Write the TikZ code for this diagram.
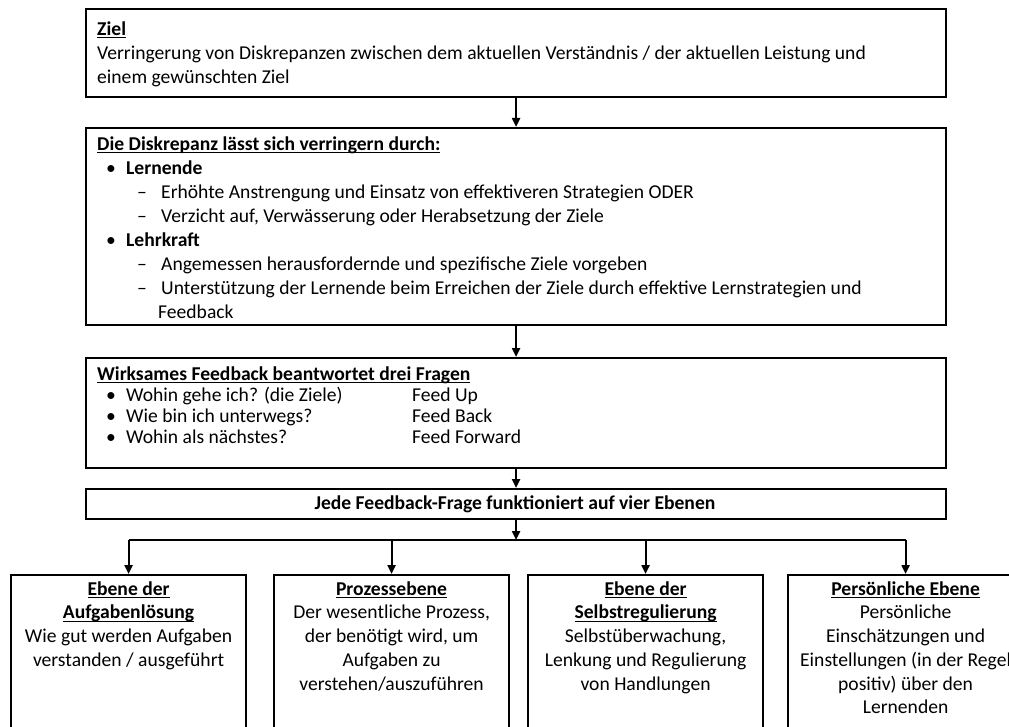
\documentclass[tikz,border=0pt]{standalone}
\usepackage{fontspec}
\setmainfont{Carlito}
\usetikzlibrary{arrows.meta}

% bold, underlined heading with a PowerPoint-like underline
\newlength\ulwd
\newcommand\ulbf[1]{\settowidth\ulwd{\textbf{#1}}\textbf{#1}\kern-\ulwd\rule[-3pt]{\ulwd}{1.3pt}}
% bullet and dash columns of the lists
\newcommand\bul{\hspace*{9pt}\makebox[20pt][l]{•}}
\newcommand\sub{\hspace*{40pt}\makebox[24pt][l]{–}}

\begin{document}
\begin{tikzpicture}[x=1pt,y=-1pt,
  box/.style={draw=black, line width=2.2pt, fill=white, rectangle, inner sep=0pt, anchor=north west},
  toptext/.style={inner sep=0pt, anchor=north west, align=left, font=\fontsize{19.6}{24.1}\selectfont},
  lowtext/.style={inner sep=0pt, anchor=north, align=center, font=\fontsize{19.6}{23.7}\selectfont},
  arr/.style={draw=black, line width=2.2pt, -{Triangle[length=9pt,width=8pt]}},
  bus/.style={draw=black, line width=2.2pt}]

\useasboundingbox (0,0) rectangle (1009,727);
\fill[white] (0,0) rectangle (1009,727);
\clip (0,0) rectangle (1009,727);

% ---- main column of boxes ----
\node[box, minimum width=860pt, minimum height=88pt]  (ziel)   at (85,8)   {};
\node[box, minimum width=860pt, minimum height=197pt] (diskr)  at (85,127) {};
\node[box, minimum width=860pt, minimum height=110pt] (fragen) at (85,357) {};
\node[box, minimum width=860pt, minimum height=30pt]  (ebenen) at (85,488) {};

% first baseline = node top + 0.7 baselineskip (strut height)
\node[toptext] (zieltxt) at (97,35-16.87) {\strut\ulbf{Ziel}\\
Verringerung von Diskrepanzen zwischen dem aktuellen Verständnis / der aktuellen Leistung und\\
einem gewünschten Ziel};

\node[toptext] (diskrtxt) at (97,150-16.87) {\strut\ulbf{Die Diskrepanz lässt sich verringern durch:}\\
\bul\textbf{Lernende}\\
\sub Erhöhte Anstrengung und Einsatz von effektiveren Strategien ODER\\
\sub Verzicht auf, Verwässerung oder Herabsetzung der Ziele\\
\bul\textbf{Lehrkraft}\\
\sub Angemessen herausfordernde und spezifische Ziele vorgeben\\
\sub Unterstützung der Lernende beim Erreichen der Ziele durch effektive Lernstrategien und\\
\hspace*{61pt}Feedback};

\node[toptext, font=\fontsize{19.6}{21}\selectfont] (fragentxt) at (97,380-14.7) {\strut\ulbf{Wirksames Feedback beantwortet drei Fragen}\\
\bul\makebox[286pt][l]{Wohin gehe ich? (die Ziele)}Feed Up\\
\bul\makebox[286pt][l]{Wie bin ich unterwegs?}Feed Back\\
\bul\makebox[286pt][l]{Wohin als nächstes?}Feed Forward};

\node[inner sep=0pt, anchor=base, font=\fontsize{19.6}{24}\selectfont\bfseries] (ebenentxt) at (515,509.5)
  {Jede Feedback-Frage funktioniert auf vier Ebenen};

% ---- four levels ----
\node[box, minimum width=235pt, minimum height=200pt] (aufgabe) at (10,574)  {};
\node[box, minimum width=235pt, minimum height=200pt] (prozess) at (273,574) {};
\node[box, minimum width=235pt, minimum height=200pt] (selbst)  at (527,574) {};
\node[box, minimum width=235pt, minimum height=200pt] (person)  at (787,574) {};

\node[lowtext] (aufgabetxt) at (aufgabe.north |- 0,595-16.59) {\strut\ulbf{Ebene der}\\ \ulbf{Aufgabenlösung}\\
Wie gut werden Aufgaben\\ verstanden / ausgeführt};
\node[lowtext] (prozesstxt) at (prozess.north |- 0,595-16.59) {\strut\ulbf{Prozessebene}\\
Der wesentliche Prozess,\\ der benötigt wird, um\\ Aufgaben zu\\ verstehen/auszuführen};
\node[lowtext] (selbsttxt) at (selbst.north |- 0,595-16.59) {\strut\ulbf{Ebene der}\\ \ulbf{Selbstregulierung}\\
Selbstüberwachung,\\ Lenkung und Regulierung\\ von Handlungen};
\node[lowtext] (persontxt) at (person.north |- 0,595-16.59) {\strut\ulbf{Persönliche Ebene}\\
Persönliche\\ Einschätzungen und\\ Einstellungen (in der Regel\\ positiv) über den\\ Lernenden};

% ---- connectors ----
\draw[arr] (ziel.south) -- (diskr.north);
\draw[arr] (diskr.south) -- (fragen.north);
\draw[arr] (fragen.south) -- (ebenen.north);

\coordinate (busL) at (aufgabe.north |- 0,540);
\coordinate (busR) at (person.north |- 0,540);
\coordinate (busM) at (ebenen.south |- 0,540);
\draw[bus] (busL) -- (busR);
\draw[arr] (ebenen.south) -- (busM);
\draw[arr] (busL) -- (aufgabe.north);
\draw[arr] (prozess.north |- busL) -- (prozess.north);
\draw[arr] (selbst.north |- busL) -- (selbst.north);
\draw[arr] (busR) -- (person.north);
\end{tikzpicture}
\end{document}
